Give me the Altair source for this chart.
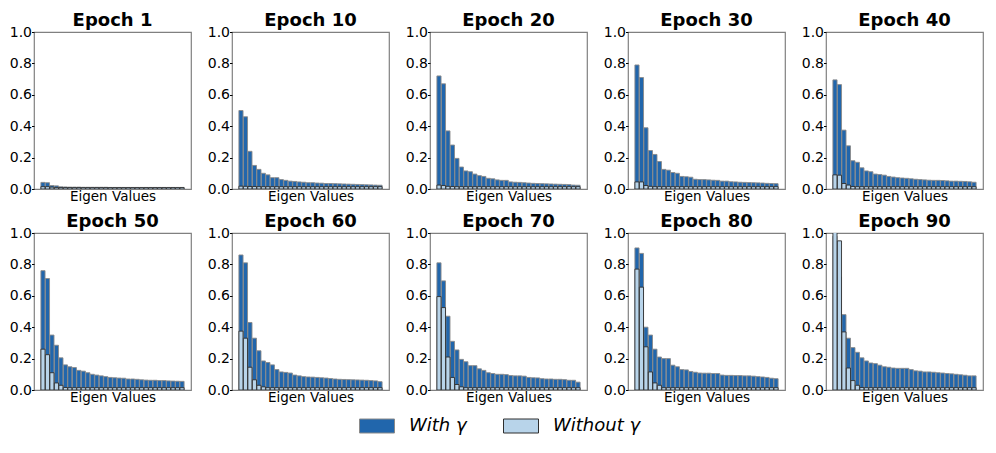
import altair as alt
import pandas as pd

epochs = [1, 10, 20, 30, 40, 50, 60, 70, 80, 90]
series_names = ["With γ", "Without γ"]
series_colors = ["#2166ac", "#b8d4ea"]
series_strokes = ["#8a8a8a", "#2f2f2f"]
y_ticks = [0.0, 0.2, 0.4, 0.6, 0.8, 1.0]

with_e1 = [0.042, 0.040, 0.022, 0.020, 0.014, 0.013, 0.012, 0.012, 0.012, 0.011, 0.011, 0.011, 0.011, 0.011, 0.011, 0.010,
           0.010, 0.010, 0.010, 0.010, 0.010, 0.010, 0.010, 0.010, 0.010, 0.010, 0.010, 0.010, 0.010, 0.010, 0.010, 0.010]
without_e1 = [0.015, 0.015, 0.012, 0.010, 0.009, 0.009, 0.009, 0.009, 0.009, 0.009, 0.009, 0.009, 0.009, 0.009, 0.009, 0.009,
              0.009, 0.009, 0.009, 0.009, 0.009, 0.009, 0.009, 0.009, 0.009, 0.009, 0.009, 0.009, 0.009, 0.009, 0.009, 0.009]

with_e10 = [0.50, 0.46, 0.24, 0.15, 0.125, 0.10, 0.09, 0.072, 0.072, 0.06, 0.055, 0.05, 0.048, 0.045, 0.043, 0.040,
            0.040, 0.038, 0.037, 0.035, 0.035, 0.034, 0.033, 0.032, 0.031, 0.030, 0.029, 0.028, 0.027, 0.026, 0.025, 0.024]
without_e10 = [0.018, 0.017, 0.016, 0.016, 0.015, 0.015, 0.015, 0.015, 0.015, 0.015, 0.015, 0.015, 0.015, 0.015, 0.015, 0.015,
               0.015, 0.015, 0.015, 0.015, 0.015, 0.015, 0.015, 0.015, 0.015, 0.015, 0.015, 0.015, 0.015, 0.015, 0.015, 0.015]

with_e20 = [0.72, 0.67, 0.37, 0.28, 0.195, 0.14, 0.115, 0.11, 0.095, 0.085, 0.08, 0.068, 0.065, 0.058, 0.055, 0.055,
            0.045, 0.043, 0.042, 0.040, 0.038, 0.036, 0.035, 0.034, 0.033, 0.032, 0.031, 0.030, 0.029, 0.028, 0.025, 0.024]
without_e20 = [0.025, 0.022, 0.017, 0.016, 0.015, 0.015, 0.015, 0.015, 0.015, 0.015, 0.015, 0.015, 0.015, 0.015, 0.015, 0.015,
               0.015, 0.015, 0.015, 0.015, 0.015, 0.015, 0.015, 0.015, 0.015, 0.015, 0.015, 0.015, 0.015, 0.015, 0.015, 0.015]

with_e30 = [0.79, 0.71, 0.39, 0.245, 0.22, 0.175, 0.125, 0.12, 0.105, 0.10, 0.08, 0.078, 0.075, 0.062, 0.06, 0.06,
            0.058, 0.056, 0.055, 0.05, 0.05, 0.046, 0.045, 0.043, 0.042, 0.041, 0.040, 0.039, 0.038, 0.036, 0.035, 0.034]
without_e30 = [0.045, 0.045, 0.022, 0.017, 0.015, 0.015, 0.015, 0.015, 0.015, 0.015, 0.015, 0.015, 0.015, 0.015, 0.015, 0.015,
               0.015, 0.015, 0.015, 0.015, 0.015, 0.015, 0.015, 0.015, 0.015, 0.015, 0.015, 0.015, 0.015, 0.015, 0.015, 0.015]

with_e40 = [0.695, 0.665, 0.375, 0.275, 0.18, 0.17, 0.135, 0.115, 0.11, 0.095, 0.092, 0.088, 0.08, 0.076, 0.072, 0.07,
            0.068, 0.065, 0.062, 0.06, 0.058, 0.056, 0.055, 0.055, 0.054, 0.052, 0.05, 0.05, 0.049, 0.048, 0.046, 0.043]
without_e40 = [0.09, 0.088, 0.035, 0.025, 0.016, 0.015, 0.015, 0.015, 0.015, 0.015, 0.015, 0.015, 0.015, 0.015, 0.015, 0.015,
               0.015, 0.015, 0.015, 0.015, 0.015, 0.015, 0.015, 0.015, 0.015, 0.015, 0.015, 0.015, 0.015, 0.015, 0.015, 0.015]

with_e50 = [0.76, 0.71, 0.35, 0.285, 0.205, 0.16, 0.148, 0.143, 0.125, 0.12, 0.11, 0.10, 0.095, 0.09, 0.085, 0.08,
            0.078, 0.076, 0.075, 0.07, 0.07, 0.068, 0.065, 0.063, 0.062, 0.062, 0.06, 0.06, 0.058, 0.057, 0.056, 0.055]
without_e50 = [0.26, 0.225, 0.11, 0.045, 0.03, 0.016, 0.015, 0.015, 0.015, 0.015, 0.015, 0.015, 0.015, 0.015, 0.015, 0.015,
               0.015, 0.015, 0.015, 0.015, 0.015, 0.015, 0.015, 0.015, 0.015, 0.015, 0.015, 0.015, 0.015, 0.015, 0.015, 0.015]

with_e60 = [0.86, 0.81, 0.43, 0.33, 0.25, 0.185, 0.175, 0.16, 0.13, 0.115, 0.112, 0.108, 0.095, 0.09, 0.085, 0.083,
            0.082, 0.08, 0.078, 0.076, 0.073, 0.07, 0.068, 0.067, 0.066, 0.065, 0.064, 0.063, 0.062, 0.06, 0.058, 0.053]
without_e60 = [0.375, 0.33, 0.145, 0.065, 0.03, 0.02, 0.015, 0.015, 0.015, 0.015, 0.015, 0.015, 0.015, 0.015, 0.015, 0.015,
               0.015, 0.015, 0.015, 0.015, 0.015, 0.015, 0.015, 0.015, 0.015, 0.015, 0.015, 0.015, 0.015, 0.015, 0.015, 0.015]

with_e70 = [0.81, 0.695, 0.47, 0.31, 0.255, 0.195, 0.18, 0.155, 0.155, 0.135, 0.125, 0.11, 0.105, 0.10, 0.10, 0.098,
            0.092, 0.09, 0.09, 0.088, 0.08, 0.078, 0.077, 0.072, 0.07, 0.07, 0.068, 0.068, 0.066, 0.062, 0.062, 0.05]
without_e70 = [0.595, 0.525, 0.21, 0.08, 0.035, 0.02, 0.015, 0.015, 0.015, 0.015, 0.015, 0.015, 0.015, 0.015, 0.015, 0.015,
               0.015, 0.015, 0.015, 0.015, 0.015, 0.015, 0.015, 0.015, 0.015, 0.015, 0.015, 0.015, 0.015, 0.015, 0.015, 0.015]

with_e80 = [0.905, 0.87, 0.40, 0.35, 0.26, 0.21, 0.20, 0.20, 0.158, 0.148, 0.13, 0.128, 0.118, 0.113, 0.108, 0.107,
            0.107, 0.105, 0.105, 0.095, 0.093, 0.093, 0.092, 0.092, 0.09, 0.09, 0.088, 0.085, 0.083, 0.08, 0.075, 0.072]
without_e80 = [0.77, 0.655, 0.275, 0.115, 0.045, 0.03, 0.015, 0.015, 0.015, 0.015, 0.015, 0.015, 0.015, 0.015, 0.015, 0.015,
               0.015, 0.015, 0.015, 0.015, 0.015, 0.015, 0.015, 0.015, 0.015, 0.015, 0.015, 0.015, 0.015, 0.015, 0.015, 0.015]

with_e90 = [0.98, 0.72, 0.48, 0.33, 0.27, 0.24, 0.205, 0.185, 0.172, 0.168, 0.158, 0.148, 0.145, 0.14, 0.138, 0.138,
            0.138, 0.13, 0.122, 0.12, 0.115, 0.115, 0.113, 0.11, 0.108, 0.105, 0.103, 0.10, 0.097, 0.094, 0.09, 0.09]
without_e90 = [1.05, 0.95, 0.37, 0.14, 0.06, 0.03, 0.016, 0.015, 0.015, 0.015, 0.015, 0.015, 0.015, 0.015, 0.015, 0.015,
               0.015, 0.015, 0.015, 0.015, 0.015, 0.015, 0.015, 0.015, 0.015, 0.015, 0.015, 0.015, 0.015, 0.015, 0.015, 0.015]

with_by_epoch = {1: with_e1, 10: with_e10, 20: with_e20, 30: with_e30, 40: with_e40,
                 50: with_e50, 60: with_e60, 70: with_e70, 80: with_e80, 90: with_e90}
without_by_epoch = {1: without_e1, 10: without_e10, 20: without_e20, 30: without_e30, 40: without_e40,
                    50: without_e50, 60: without_e60, 70: without_e70, 80: without_e80, 90: without_e90}

FONT = "DejaVu Sans"
color_scale = alt.Scale(domain=series_names, range=series_colors)
stroke_scale = alt.Scale(domain=series_names, range=series_strokes)
x_scale = alt.Scale(domain=[-2.0, 33.0], nice=False, zero=False)
legend = alt.Legend(
    title=None, orient="none", legendX=325, legendY=376, direction="horizontal", padding=0,
    symbolType="M-1,-0.4H1V0.4H-1Z", symbolSize=1225, symbolStrokeColor="#8a8a8a",
    symbolStrokeWidth=1, symbolOpacity=1,
    labelFont=FONT, labelFontSize=18, labelFontStyle="italic", labelColor="black",
    labelOffset=14, columnPadding=34, labelLimit=200,
)


def panel(ep, show_legend):
    rows = []
    for i, v in enumerate(with_by_epoch[ep]):
        rows.append({"idx": i, "value": v, "series": series_names[0]})
    for i, v in enumerate(without_by_epoch[ep]):
        rows.append({"idx": i, "value": v, "series": series_names[1]})
    df = pd.DataFrame(rows)

    def layer(name):
        return alt.Chart(df).transform_filter(alt.datum.series == name).transform_calculate(
            x0="datum.idx - 0.46", x1="datum.idx + 0.46"
        ).mark_bar(clip=True, strokeWidth=0.9).encode(
            x=alt.X("x0:Q", scale=x_scale,
                    axis=alt.Axis(title="Eigen Values", labels=False, ticks=False, domain=False, grid=False,
                                  titleFontSize=13.5, titleFontWeight="normal", titlePadding=0,
                                  titleFont=FONT, titleColor="black")),
            x2="x1:Q",
            y=alt.Y("value:Q", stack=None, scale=alt.Scale(domain=[0, 1], nice=False),
                    axis=alt.Axis(title=None, values=y_ticks, format=".1f", grid=False, domain=False,
                                  labelFontSize=14, labelFont=FONT, labelColor="black",
                                  tickColor="black", tickSize=2.5, labelPadding=0)),
            y2=alt.datum(0),
            color=alt.Color("series:N", scale=color_scale, legend=legend if show_legend else None),
            stroke=alt.Stroke("series:N", scale=stroke_scale, legend=None),
        )

    return alt.layer(layer(series_names[0]), layer(series_names[1])).properties(
        width=157, height=157,
        title=alt.TitleParams(f"Epoch {ep}", fontSize=18, fontWeight="bold", font=FONT,
                              color="black", offset=-5),
    )


row1 = alt.hconcat(*[panel(e, i == 0) for i, e in enumerate(epochs[:5])], spacing=14)
row2 = alt.hconcat(*[panel(e, False) for e in epochs[5:]], spacing=14)

chart = alt.vconcat(row1, row2, spacing=8).properties(
    padding={"left": 0, "top": 3, "right": 2, "bottom": 2}
).configure_view(
    stroke="#808080", strokeWidth=1.2
)

chart.save("out.html", embed_options={"renderer": "svg", "actions": False})
